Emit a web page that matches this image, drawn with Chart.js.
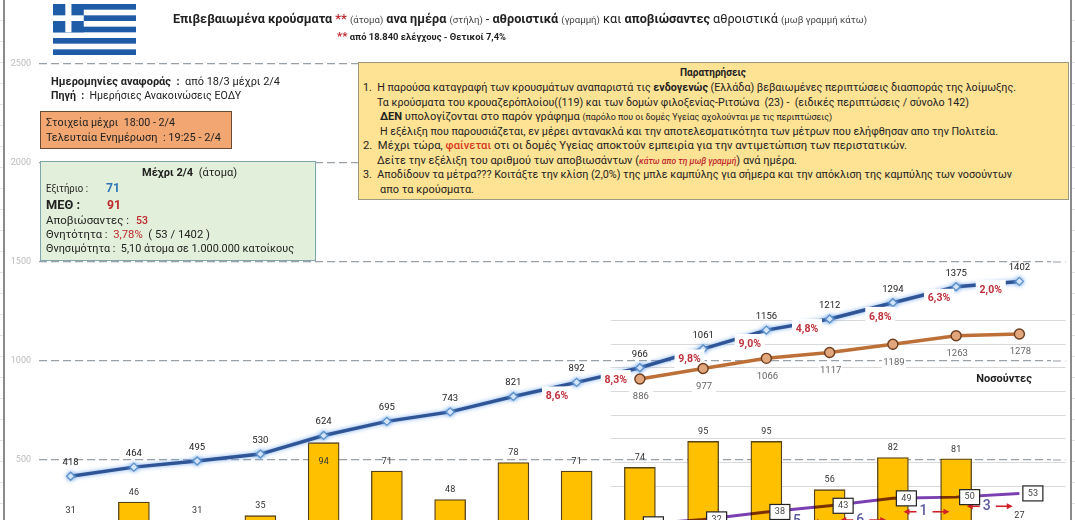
<!DOCTYPE html>
<html lang="el">
<head>
<meta charset="utf-8">
<script src="https://cdn.jsdelivr.net/npm/chart.js@4/dist/chart.umd.min.js"></script>
<style>
html,body{margin:0;padding:0;width:1075px;height:520px;overflow:hidden;background:#fff;font-family:Roboto,"Open Sans",sans-serif;color:#222}
#stage{position:relative;width:1075px;height:520px;overflow:hidden;filter:blur(.35px)}
canvas{position:absolute;left:0;top:0}
.box{position:absolute;box-sizing:border-box}
.t{position:absolute;white-space:nowrap;transform-origin:left center;line-height:1;font-size:11px}
.s{font-size:.76em;color:#444}
.r{color:#c0272d}
b{font-weight:700}
.frame{position:absolute;top:0;height:520px;width:2px;background:#8a8a8a}
.rows{position:absolute;top:0;height:520px;width:3px;background:repeating-linear-gradient(to bottom,#fff 0 20px,#e2e2e2 20px 21px)}
</style>
</head>
<body>
<div id="stage">
<canvas id="c" width="1075" height="600"></canvas>
<div class="rows" style="left:0"></div><div class="rows" style="left:1072px"></div>
<div class="frame" style="left:3px"></div><div class="frame" style="left:1070px"></div>
<svg style="position:absolute;left:53px;top:4px" width="83" height="51" viewBox="0 0 27 18" preserveAspectRatio="none">
<rect width="27" height="18" fill="#fff"/>
<g fill="#1f5ca8"><rect y="0" width="27" height="2"/><rect y="4" width="27" height="2"/><rect y="8" width="27" height="2"/><rect y="12" width="27" height="2"/><rect y="16" width="27" height="2"/><rect width="10" height="10"/></g>
<rect x="4" width="2" height="10" fill="#fff"/><rect y="4" width="10" height="2" fill="#fff"/>
</svg>
<div class="box" style="left:40px;top:111px;width:192px;height:38px;background:#f2a671;border:1px solid #6a4a30"></div>
<div class="box" style="left:40px;top:161px;width:276px;height:100px;background:#e2efda;border:1px solid #7fa6ad"></div>
<div class="box" style="left:358px;top:62px;width:711px;height:138px;background:#ffe394;border:1px solid #9a9a80"></div>
<div id="texts"></div>
</div>
<script>
// ---- chart values ----
const categories = ['18/3','19/3','20/3','21/3','22/3','23/3','24/3','25/3','26/3','27/3','28/3','29/3','30/3','31/3','1/4','2/4'];
const dailyCases = [31,46,31,35,94,71,48,78,71,74,95,95,56,82,81,27];
const totalCases = [418,464,495,530,624,695,743,821,892,966,1061,1156,1212,1294,1375,1402];
const hospitalized = [null,null,null,null,null,null,null,null,null,886,977,1066,1117,1189,1263,1278];
const deaths = [null,null,null,null,null,null,null,null,null,28,32,38,43,49,50,53];
const growthLabels = [null,null,null,null,null,null,null,'8,6%','8,3%','9,8%','9,0%','4,8%','6,8%','6,3%','2,0%'];
const deathStepLabels = [null,null,null,null,null,null,null,null,null,null,null,'5','6','1','3'];
const primaryTicks = [0,500,1000,1500,2000,2500];
const insetGridSteps = [0,1,2,3,4,5,6,7];

// ---- layout of the annotations (not data) ----
const growthShiftX = {7:12,8:7.5,9:18,10:15,11:9,12:19,13:14.5,14:3};
const growthShiftY = {7:7,8:5,9:1,10:4.5,11:4.5,12:6,13:4,14:6};
const stepShiftY = {11:13,12:18,13:14,14:11};
const FONT = 'Roboto, "Open Sans", sans-serif';
const GRID = '#98a0a8', DASH = [8,4];

function label(ctx,txt,x,y,font,color,bg){
  ctx.save();ctx.font=font;ctx.textAlign='center';ctx.textBaseline='middle';
  if(bg){ctx.fillStyle=bg.fill;ctx.fillRect(x-bg.w/2,y-bg.h/2,bg.w,bg.h);
    if(bg.stroke){ctx.strokeStyle=bg.stroke;ctx.lineWidth=1.2;ctx.strokeRect(x-bg.w/2,y-bg.h/2,bg.w,bg.h);}}
  ctx.fillStyle=color;ctx.fillText(txt,x,y);ctx.restore();
}
function arrow(ctx,x0,x1,y){
  const dir=Math.sign(x1-x0);
  ctx.save();ctx.strokeStyle='#d0202a';ctx.fillStyle='#d0202a';ctx.lineWidth=1.6;
  ctx.beginPath();ctx.moveTo(x0,y);ctx.lineTo(x1,y);ctx.stroke();
  ctx.beginPath();ctx.moveTo(x1+dir*2,y);ctx.lineTo(x1-dir*4,y-3);ctx.lineTo(x1-dir*4,y+3);ctx.closePath();ctx.fill();
  ctx.restore();
}
const overlays={
  id:'overlays',
  beforeDatasetsDraw(chart){
    const {ctx,scales,chartArea}=chart;const xl=scales.x.getPixelForValue(8.54),xr=scales.x.getPixelForValue(15.73);
    ctx.save();ctx.strokeStyle='#d9d9d9';ctx.lineWidth=1;
    insetGridSteps.forEach(v=>{const y=Math.round(scales.y4.getPixelForValue(v))+.5;ctx.beginPath();ctx.moveTo(xl,y);ctx.lineTo(xr,y);ctx.stroke();});
    ctx.strokeStyle=GRID;ctx.setLineDash(DASH);ctx.lineWidth=1.2;
    primaryTicks.forEach(v=>{const y=scales.y.getPixelForValue(v);ctx.beginPath();ctx.moveTo(chartArea.right+2,y);ctx.lineTo(xr,y);ctx.stroke();});
    ctx.restore();
  },
  beforeDatasetDraw(chart,args){
    const ds=chart.data.datasets[args.index],ctx=chart.ctx;
    if(ds.glow){ctx.save();ctx.shadowColor='rgba(110,165,235,.9)';ctx.shadowBlur=4;}
    if(ds.multiply){ctx.save();ctx.globalCompositeOperation='multiply';}
  },
  afterDatasetDraw(chart,args){
    const ds=chart.data.datasets[args.index],ctx=chart.ctx,{x,y}=chart.scales;
    if(ds.glow||ds.multiply)ctx.restore();
    if(ds.glow){
      growthLabels.forEach((t,i)=>{ if(!t)return;
        const px=(x.getPixelForValue(i)+x.getPixelForValue(i+1))/2+growthShiftX[i];
        const py=(y.getPixelForValue(totalCases[i])+y.getPixelForValue(totalCases[i+1]))/2+growthShiftY[i];
        label(ctx,t,px,py,'bold 10.5px '+FONT,'#c0303a',{fill:'#fff',w:30,h:20});
      });
    }
  },
  afterDatasetsDraw(chart){
    const ctx=chart.ctx,{x,y2}=chart.scales;
    const find=k=>chart.getDatasetMeta(chart.data.datasets.findIndex(d=>d.key===k)).data;
    find('bars').forEach((el,i)=>{
      const inside=dailyCases[i]===94;
      label(ctx,String(dailyCases[i]),el.x,el.y+(inside?19:-9.5),'9px '+FONT,'#333');
    });
    find('total').forEach((el,i)=>label(ctx,String(totalCases[i]),el.x,el.y-13.5,'9.5px '+FONT,'#222'));
    find('hosp').forEach((el,i)=>{ if(hospitalized[i]==null)return;
      label(ctx,String(hospitalized[i]),el.x+1,el.y+18,'9.5px '+FONT,'#666',{fill:'#fff',w:24,h:12});});
    deathStepLabels.forEach((t,i)=>{ if(!t)return;
      const px=(x.getPixelForValue(i)+x.getPixelForValue(i+1))/2-1;
      const py=(y2.getPixelForValue(deaths[i])+y2.getPixelForValue(deaths[i+1]))/2+stepShiftY[i];
      arrow(ctx,px-7,px-18,py);arrow(ctx,px+9,px+24,py);
      label(ctx,t,px,py,'500 14px '+FONT,'#5b5a9c');
    });
    find('deaths').forEach((el,i)=>{ if(deaths[i]==null)return;
      label(ctx,String(deaths[i]),el.x+13.5,el.y,'9px '+FONT,'#444',{fill:'#fff',w:20,h:15,stroke:'#222'});});
    label(ctx,'Νοσούντες',1004,379,'bold 11px '+FONT,'#222');
  }
};
new Chart(document.getElementById('c').getContext('2d'),{
  data:{labels:categories,datasets:[
    {type:'bar',key:'bars',data:dailyCases,yAxisID:'y2',order:4,backgroundColor:'#ffc000',borderColor:'#54411a',borderWidth:1.3,barThickness:31},
    {type:'line',key:'total',data:totalCases,yAxisID:'y',order:3,glow:true,borderColor:'#2f5597',borderWidth:3.5,tension:0,pointStyle:'rectRot',pointRadius:4,pointBackgroundColor:'#fff',pointBorderColor:'#5b8fc9',pointBorderWidth:1.3},
    {type:'line',key:'hosp',data:hospitalized,yAxisID:'y3',order:2,borderColor:'#bd6f38',borderWidth:3.5,tension:0,pointRadius:5,pointBackgroundColor:'#e2a67c',pointBorderColor:'#6b3d1e',pointBorderWidth:1.4,spanGaps:false},
    {type:'line',key:'deaths',data:deaths,yAxisID:'y2',order:1,multiply:true,borderColor:'#7a3fb0',borderWidth:3,tension:0,pointRadius:0,spanGaps:false}
  ]},
  options:{
    responsive:false,animation:false,
    layout:{padding:{top:64,right:24,bottom:41,left:0}},
    plugins:{legend:{display:false},tooltip:{enabled:false}},
    scales:{
      x:{display:false,offset:true,grid:{display:false}},
      y:{min:0,max:2500,afterFit:s=>{s.width=39;},
         afterBuildTicks:s=>{s.ticks=primaryTicks.map(v=>({value:v}));},
         grid:{color:GRID,lineWidth:1.2,drawTicks:false},
         border:{display:false,dash:DASH},
         ticks:{color:'#bcbcbc',font:{size:9,family:FONT},padding:8,callback:v=>String(v)}},
      y2:{display:false,min:0,max:400},
      y3:{display:false,min:-682,max:3630},
      y4:{display:false,min:-3.1,max:17.83}
    }
  },
  plugins:[overlays]
});

// ---- text blocks, stretched to the widths seen in the reference ----
const lines=[
 [173,19,694,12.5,'<b>Επιβεβαιωμένα κρούσματα</b> <b class="r">**</b> <span class="s">(άτομα)</span> <b>ανα ημέρα</b> <span class="s">(στήλη)</span> - <b>αθροιστικά</b> <span class="s">(γραμμή)</span> και <b>αποβιώσαντες</b> αθροιστικά <span class="s">(μωβ γραμμή κάτω)</span>'],
 [337,36,169,9,'<b class="r" style="font-size:11px">**</b> <b>από 18.840 ελέγχους - Θετικοί 7,4%</b>'],
 [51,81,229,11,'<b>Ημερομηνίες αναφοράς&nbsp; :</b>&nbsp; από 18/3 μέχρι 2/4'],
 [51,95,190,11,'<b>Πηγή&nbsp; :</b>&nbsp; Ημερήσιες Ανακοινώσεις ΕΟΔΥ'],
 [46,122,129,11,'Στοιχεία μέχρι&nbsp; 18:00 - 2/4'],
 [46,137,175,11,'Τελευταία Ενημέρωση&nbsp; : 19:25 - 2/4'],
 [142,172,95,11,'<b>Μέχρι 2/4</b>&nbsp; (άτομα)'],
 [46,188,42,11,'Εξιτήριο :'],
 [106,188,14,12.5,'<b style="color:#2e75b6">71</b>'],
 [46,204,34,13,'<b>ΜΕΘ :</b>'],
 [107,204,14,13,'<b style="color:#c0272d">91</b>'],
 [46,220,83,11,'Αποβιώσαντες :'],
 [136,220,12,11,'<b style="color:#c0272d;font-weight:500">53</b>'],
 [46,234,164,11,'Θνητότητα : &nbsp;<span class="r">3,78%</span>&nbsp; ( 53 / 1402 )'],
 [46,248,248,11,'Θνησιμότητα :&nbsp; 5,10 άτομα σε 1.000.000 κατοίκους'],
 [680,73,66,10.5,'<b>Παρατηρήσεις</b>'],
 [363,87,653,11,'1.&nbsp; Η παρούσα καταγραφή των κρουσμάτων αναπαριστά τις <b>ενδογενώς</b> (Ελλάδα) βεβαιωμένες περιπτώσεις διασποράς της λοίμωξης.'],
 [377,102,592,11,'Τα κρούσματα του κρουαζερόπλοίου((119) και των δομών φιλοξενίας-Ριτσώνα&nbsp; (23) -&nbsp; (ειδικές περιπτώσεις / σύνολο 142)'],
 [380,116,452,11,'<b>ΔΕΝ</b> υπολογίζονται στο παρόν γράφημα <span class="s" style="font-size:.8em;color:#222">(παρόλο που οι δομές Υγείας αχολούνται με τις περιπτώσεις)</span>'],
 [380,131,618,11,'Η εξέλιξη που παρουσιάζεται, εν μέρει αντανακλά και την αποτελεσματικότητα των μέτρων που ελήφθησαν απο την Πολιτεία.'],
 [363,145,544,11,'2.&nbsp; Μέχρι τώρα, <span style="color:#d63a1e;font-weight:500">φαίνεται</span> οτι οι δομές Υγείας αποκτούν εμπειρία για την αντιμετώπιση των περιστατικών.'],
 [377,160,420,11,'Δείτε την εξέλιξη του αριθμού των αποβιωσάντων (<i class="r" style="font-size:.78em;font-weight:500">κάτω απο τη μωβ γραμμή</i>) ανά ημέρα.'],
 [363,174,649,11,'3.&nbsp; Αποδίδουν τα μέτρα??? Κοιτάξτε την κλίση (2,0%) της μπλε καμπύλης για σήμερα και την απόκλιση της καμπύλης των νοσούντων'],
 [380,189,94,11,'απο τα κρούσματα.']
];
const host=document.getElementById('texts');
lines.forEach(([x,y,w,size,html])=>{
  const el=document.createElement('div');el.className='t';el.innerHTML=html;
  el.style.left=x+'px';el.style.fontSize=size+'px';host.appendChild(el);
  const r=el.getBoundingClientRect();
  el.style.top=(y-r.height/2)+'px';
  el.style.transform='scaleX('+(w/r.width)+')';
});
</script>
</body>
</html>
